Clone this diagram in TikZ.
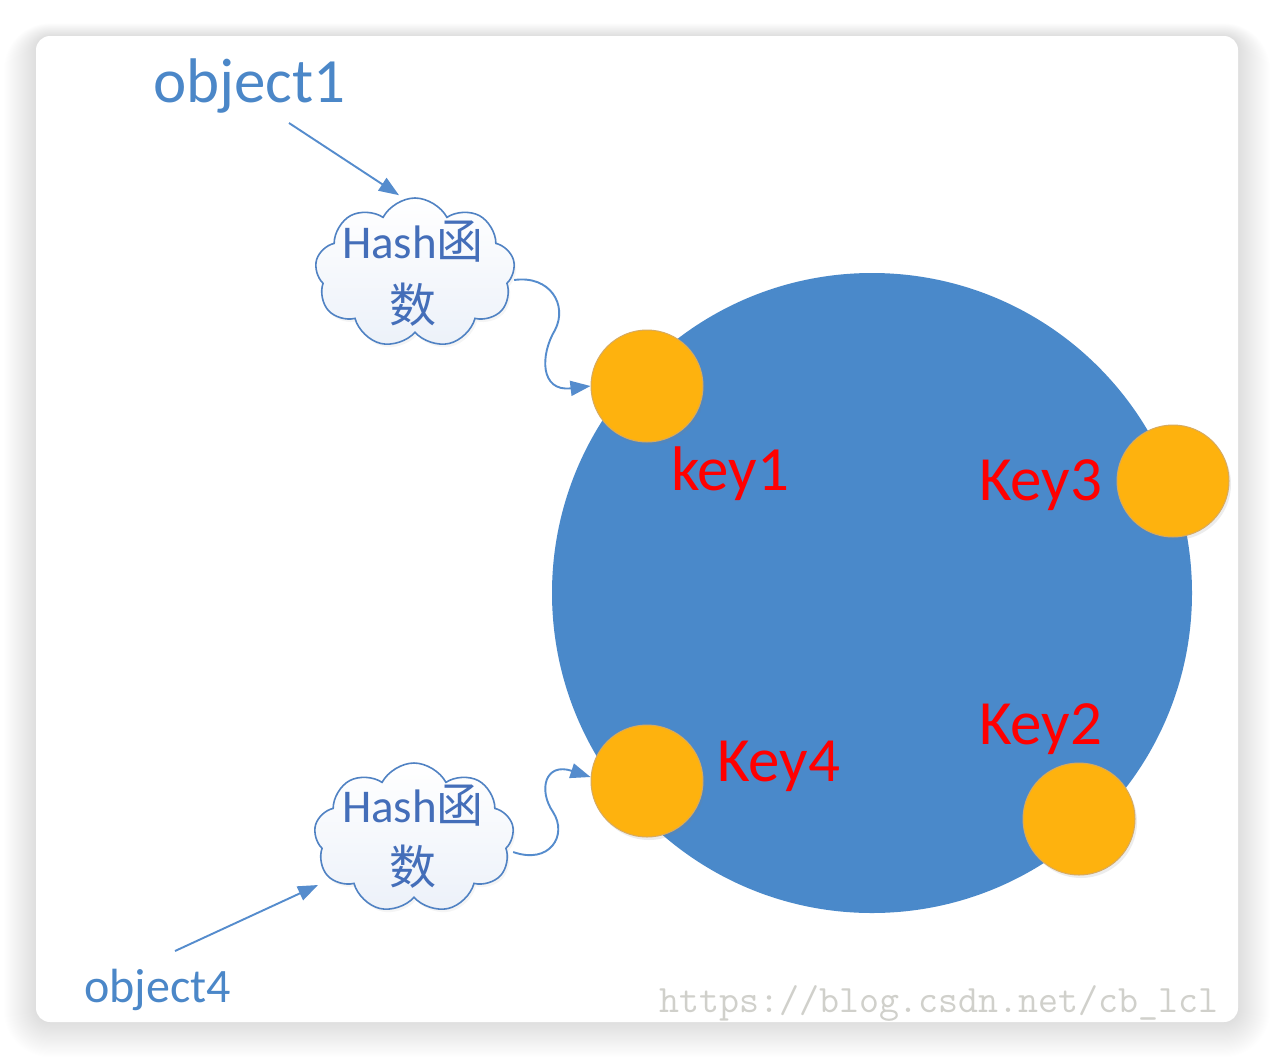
\documentclass[tikz,border=0pt]{standalone}
\usepackage{fontspec}
\newfontfamily\carlito{Carlito}
\newfontfamily\cjk{Noto Sans CJK SC}
\usetikzlibrary{shapes.symbols,arrows.meta,shadows}
\definecolor{ringblue}{RGB}{74,137,202}
\definecolor{keyorange}{RGB}{254,178,14}
\definecolor{keyrim}{RGB}{215,170,95}
\definecolor{objblue}{RGB}{75,135,200}
\definecolor{hashblue}{RGB}{68,110,185}
\definecolor{connblue}{RGB}{85,140,205}
\definecolor{cloudline}{RGB}{80,130,195}
\definecolor{cloudfill}{RGB}{236,241,249}
\definecolor{wmgray}{RGB}{208,208,203}
\begin{document}
\begin{tikzpicture}[x=1pt,y=-1pt,
  keycircle/.style={circle, minimum size=112pt, inner sep=0pt, fill=keyorange, draw=keyrim, line width=1pt,
    drop shadow={opacity=0.15, shadow xshift=2pt, shadow yshift=-3pt}},
  keylabel/.style={anchor=base west, text=red, inner sep=0pt, font=\carlito\fontsize{63}{63}\selectfont},
  hashcloud/.style={cloud, cloud puffs=9, cloud puff arc=125, cloud ignores aspect,
    minimum width=200pt, minimum height=150pt, inner sep=0pt, draw=cloudline, line width=1.6pt,
    top color=white, bottom color=cloudfill,
    drop shadow={opacity=0.08, shadow xshift=2pt, shadow yshift=-3pt}},
  hashtext/.style={anchor=base, inner sep=0pt, text=hashblue, font=\carlito\fontsize{47}{47}\selectfont},
  objtext/.style={anchor=base west, inner sep=0pt, text=objblue},
  conn/.style={draw=connblue, line width=1.9pt, -{Triangle[length=20pt,width=15pt]}}
]
\useasboundingbox (0,0) rectangle (1274,1058);
\fill[white] (0,0) rectangle (1274,1058);
% card shadow
\foreach \i [evaluate=\i as \r using 14+\i] in {1,...,32}
  \fill[black, opacity=0.005, rounded corners=\r pt] (36-\i, 36-0.4*\i) rectangle (1238+\i, 1022+1.1*\i);
\fill[white, rounded corners=14pt] (36,36) rectangle (1238,1022);

% ring
\node[circle, minimum size=640pt, inner sep=0pt, fill=ringblue] (ring) at (872,593) {};

% key circles
\node[keycircle] (k1) at (647,386) {};
\node[keycircle] (k3) at (1173,481) {};
\node[keycircle] (k4) at (647,781) {};
\node[keycircle] (k2) at (1079,819) {};

% key labels
\node[keylabel] (l1) at (671,490) {key1};
\node[keylabel] (l3) at (979,500) {Key3};
\node[keylabel] (l2) at (979,744) {Key2};
\node[keylabel] (l4) at (717,781) {Key4};

% clouds
\node[hashcloud] (c1) at (415,273) {};
\node[hashcloud] (c2) at (414,838) {};
\node[hashtext] (h1a) at (413,258) {Hash{\cjk 函}};
\node[hashtext] (h1b) at (413,322) {\cjk 数};
\node[hashtext] (h2a) at (413,822) {Hash{\cjk 函}};
\node[hashtext] (h2b) at (413,884) {\cjk 数};

% objects
\node[objtext, font=\carlito\fontsize{63}{63}\selectfont] (o1) at (153,102) {object1};
\node[objtext, font=\carlito\fontsize{48}{48}\selectfont] (o4) at (84,1002) {object4};
\coordinate (o1tail) at (289,123);
\coordinate (o4tail) at (175,951);

% connectors
\draw[conn] (o1tail) -- ([xshift=-16pt,yshift=2pt]c1.north);
\draw[conn] ([yshift=-7pt]c1.east) .. controls (550,275) and (568,305) .. (555,330)
  .. controls (540,355) and (540,392) .. (k1.west);
\draw[conn] (o4tail) -- ([shift={(-96pt,-47pt)}]c2.center);
\draw[conn] ([yshift=-14pt]c2.east) .. controls (550,865) and (568,835) .. (553,812)
  .. controls (538,790) and (545,762) .. ([yshift=4pt]k4.west);

% watermark
\node[anchor=base west, inner sep=0pt, text=wmgray, font=\ttfamily\fontsize{38.8}{40}\selectfont] (wm) at (659,1012) {https://blog.csdn.net/cb\_lcl};
\end{tikzpicture}
\end{document}
